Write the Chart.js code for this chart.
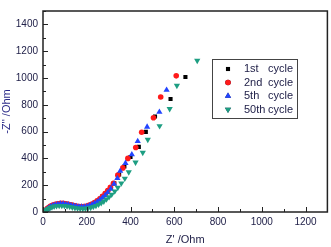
<!DOCTYPE html>
<html>
<head>
<meta charset="utf-8">
<script src="https://cdn.jsdelivr.net/npm/chart.js@4"></script>
<style>
    html, body { margin: 0; padding: 0; background: #fff; }
    #wrap { width: 331px; height: 247px; position: relative; }
</style>
</head>
<body>
<div id="wrap"><canvas id="nyquist"></canvas></div>
<script>
// --- data (Z' / -Z'' in Ohm) ---
const cycleLabels = ['1st', '2nd', '5th', '50th'];

const cycle1 = [
    [13, 9], [16, 16], [21, 25], [28, 35], [36, 44], [46, 52], [57, 58], [69, 62], [81, 64], [93, 64],
    [105, 62], [117, 58], [129, 53], [141, 48], [153, 44], [165, 41], [177, 40], [189, 41], [201, 45],
    [213, 51], [225, 60], [237, 71], [249, 84], [261, 99], [273, 117], [286, 137], [298, 160], [311, 185],
    [326, 215], [348, 280], [372, 340], [400, 410], [438, 486], [470, 598], [512, 713], [583, 843], [651, 1007]
];
const cycle2 = [
    [12, 9], [15, 16], [20, 25], [27, 35], [35, 44], [45, 52], [56, 58], [68, 62], [80, 64], [92, 64],
    [104, 62], [116, 58], [128, 53], [140, 48], [152, 44], [164, 41], [176, 40], [188, 41], [200, 45],
    [212, 51], [224, 60], [236, 71], [248, 84], [260, 99], [272, 117], [284, 137], [296, 160], [308, 185],
    [322, 215], [342, 275], [365, 329], [388, 400], [424, 481], [451, 595], [505, 703], [538, 858], [609, 1016]
];
const cycle5 = [
    [12, 8], [15, 14], [20, 22], [27, 31], [35, 40], [45, 48], [56, 54], [68, 58], [80, 60], [92, 60],
    [104, 58], [116, 55], [128, 50], [140, 46], [152, 42], [164, 39], [176, 38], [188, 39], [200, 42],
    [212, 47], [224, 55], [236, 65], [248, 76], [260, 90], [272, 106], [284, 124], [296, 146], [310, 172],
    [325, 210], [340, 252], [353, 306], [377, 365], [406, 429], [433, 528], [476, 635], [532, 746], [565, 910]
];
const cycle50 = [
    [10, 4], [13, 10], [18, 17], [24, 24], [32, 31], [41, 37], [51, 42], [62, 45], [74, 47], [86, 47],
    [98, 46], [110, 43], [122, 39], [134, 35], [146, 31], [158, 28], [170, 26], [182, 25], [194, 26],
    [206, 29], [218, 33], [230, 39], [242, 47], [254, 56], [266, 67], [278, 80], [290, 95], [302, 112],
    [314, 131], [328, 155], [342, 182], [358, 215], [374, 250], [392, 298], [423, 370], [456, 443],
    [479, 540], [533, 642], [579, 770], [612, 943], [705, 1130]
];

const xMajor = [0, 200, 400, 600, 800, 1000, 1200];
const xMinor = [100, 300, 500, 700, 900, 1100, 1300];
const yMajor = [0, 200, 400, 600, 800, 1000, 1200, 1400];
const yMinor = [100, 300, 500, 700, 900, 1100, 1300, 1500];

const COLORS = {
    c1: '#000000',
    c2: '#ff1a1a',
    c5: '#2244ff',
    c50: '#1d9e82',
    text: '#22224a',
    title: '#2a2a88',
    frame: '#222222'
};
const FONT = "'Liberation Sans', Arial, sans-serif";

const toPts = arr => arr.map(p => ({ x: p[0], y: p[1] }));

// frame + inward ticks, like the origin-style plot
const framePlugin = {
    id: 'frame',
    afterDraw(chart) {
        const { ctx, chartArea: a, scales: { x, y } } = chart;
        ctx.save();
        ctx.strokeStyle = COLORS.frame;
        ctx.lineWidth = 1;
        xMajor.concat(xMinor).forEach(v => {
            const px = Math.round(x.getPixelForValue(v)) + 0.5;
            const len = xMajor.includes(v) ? 5 : 3;
            ctx.beginPath();
            ctx.moveTo(px, a.bottom);
            ctx.lineTo(px, a.bottom - len);
            ctx.stroke();
        });
        yMajor.concat(yMinor).forEach(v => {
            const py = Math.round(y.getPixelForValue(v)) + 0.5;
            const len = yMajor.includes(v) ? 5 : 3;
            ctx.beginPath();
            ctx.moveTo(a.left, py);
            ctx.lineTo(a.left + len, py);
            ctx.stroke();
        });
        ctx.lineWidth = 1.5;
        ctx.strokeRect(a.left, a.top, a.right - a.left, a.bottom - a.top);
        ctx.restore();
    }
};

// boxed legend inside the plot area
const legendPlugin = {
    id: 'boxLegend',
    afterDraw(chart) {
        const { ctx } = chart;
        const bx = 212, by = 59, bw = 85, bh = 59;
        ctx.save();
        ctx.fillStyle = '#fff';
        ctx.fillRect(bx, by, bw, bh);
        ctx.strokeStyle = '#444';
        ctx.lineWidth = 1;
        ctx.strokeRect(bx + 0.5, by + 0.5, bw, bh);
        ctx.font = '11px ' + FONT;
        ctx.textBaseline = 'middle';
        chart.data.datasets.forEach((ds, i) => {
            const cy = by + 10 + i * 13.5;
            Chart.helpers.drawPoint(ctx, {
                pointStyle: ds.pointStyle,
                rotation: ds.rotation || 0,
                radius: ds.pointRadius,
                borderWidth: 0
            }, bx + 16, cy);
            ctx.fillStyle = ds.pointBackgroundColor;
            ctx.fill();
            ctx.fillStyle = COLORS.text;
            ctx.fillText(cycleLabels[i], bx + 32, cy);
            ctx.fillText('cycle', bx + 56, cy);
        });
        ctx.restore();
    }
};

function series(label, data, color, style, radius, order, rotation) {
    return {
        label,
        data: toPts(data),
        pointStyle: style,
        rotation: rotation || 0,
        pointRadius: radius,
        pointHoverRadius: radius,
        pointBackgroundColor: color,
        pointBorderColor: color,
        pointBorderWidth: 0,
        backgroundColor: color,
        borderColor: color,
        showLine: false,
        order
    };
}

new Chart(document.getElementById('nyquist'), {
    type: 'scatter',
    data: {
        datasets: [
            series('1st cycle', cycle1, COLORS.c1, 'rect', 2.9, 3),
            series('2nd cycle', cycle2, COLORS.c2, 'circle', 2.8, 2),
            series('5th cycle', cycle5, COLORS.c5, 'triangle', 3.6, 1),
            series('50th cycle', cycle50, COLORS.c50, 'triangle', 3.6, 0, 180)
        ]
    },
    options: {
        responsive: true,
        maintainAspectRatio: false,
        animation: false,
        layout: { padding: { top: 2, right: 3, left: 0, bottom: 0 } },
        plugins: {
            legend: { display: false },
            tooltip: { enabled: false }
        },
        scales: {
            x: {
                type: 'linear',
                min: 0,
                max: 1300,
                grid: { display: false, drawTicks: false },
                border: { display: false },
                afterBuildTicks: s => { s.ticks = xMajor.map(v => ({ value: v })); },
                afterFit: s => { s.height = 35; },
                ticks: {
                    color: COLORS.text,
                    padding: 4,
                    maxRotation: 0,
                    autoSkip: false,
                    callback: v => String(v),
                    font: { family: FONT, size: 10 }
                },
                title: {
                    display: true,
                    text: "Z' /Ohm",
                    color: COLORS.text,
                    padding: { top: 2, bottom: 0 },
                    font: { family: FONT, size: 11 }
                }
            },
            y: {
                type: 'linear',
                min: 0,
                max: 1500,
                grid: { display: false, drawTicks: false },
                border: { display: false },
                afterBuildTicks: s => { s.ticks = yMajor.map(v => ({ value: v })); },
                afterFit: s => { s.width = 43; },
                ticks: {
                    color: COLORS.text,
                    padding: 5,
                    autoSkip: false,
                    callback: v => String(v),
                    font: { family: FONT, size: 10 }
                },
                title: {
                    display: true,
                    text: "-Z'' /Ohm",
                    color: COLORS.title,
                    padding: { top: 0, bottom: 2 },
                    font: { family: FONT, size: 11 }
                }
            }
        }
    },
    plugins: [framePlugin, legendPlugin]
});
</script>
</body>
</html>
